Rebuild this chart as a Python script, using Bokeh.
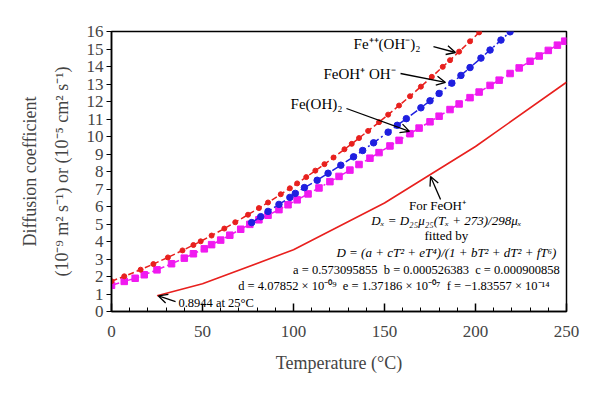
from bokeh.plotting import figure
from bokeh.models import LinearAxis, Range1d, FixedTicker, Arrow, OpenHead
from bokeh.core.properties import value
from bokeh.embed import file_html
from bokeh.resources import INLINE

# ---- data ----
t_red = [0, 7, 16, 23, 31, 39, 45, 49, 55, 62, 68, 75, 81, 86, 93, 98, 102, 107, 112, 117,
         122, 128, 132, 136, 141, 147, 152, 158, 164, 170, 176, 182, 186, 191, 197, 202]
d_red = [1.73, 2.01, 2.39, 2.71, 3.09, 3.49, 3.80, 4.01, 4.34, 4.74, 5.10, 5.53, 5.91, 6.23, 6.70,
         7.04, 7.32, 7.68, 8.05, 8.42, 8.80, 9.27, 9.58, 9.91, 10.32, 10.82, 11.25, 11.77, 12.30,
         12.85, 13.41, 13.98, 14.36, 14.85, 15.44, 15.95]

t_blue = [77, 82, 86, 92, 98, 101, 106, 113, 119, 126, 133, 138, 144, 152, 157, 162, 170, 175,
          180, 187, 192, 197, 203, 208, 214, 219]
d_blue = [5.08, 5.42, 5.72, 6.12, 6.52, 6.75, 7.08, 7.50, 7.90, 8.36, 8.84, 9.20, 9.64, 10.25,
          10.64, 11.02, 11.64, 12.04, 12.46, 13.05, 13.49, 13.94, 14.48, 14.94, 15.51, 15.98]

t_mag = [0, 7, 13, 18, 25, 33, 40, 45, 51, 55, 60, 65, 71, 76, 81, 86, 92, 97, 102, 108, 114, 120,
         125, 131, 136, 142, 147, 153, 158, 164, 169, 175, 180, 186, 191, 197, 202, 208, 213, 219,
         224, 230, 235, 240, 245, 249]
d_mag = [1.50, 1.72, 1.90, 2.10, 2.38, 2.73, 3.05, 3.30, 3.58, 3.82, 4.08, 4.36, 4.70, 4.98, 5.24,
         5.50, 5.82, 6.10, 6.38, 6.72, 7.06, 7.42, 7.72, 8.08, 8.40, 8.76, 9.08, 9.46, 9.78, 10.16,
         10.48, 10.84, 11.16, 11.54, 11.86, 12.22, 12.54, 12.92, 13.22, 13.60, 13.92, 14.30, 14.60,
         14.92, 15.22, 15.45]

t_feoh = [25, 50, 100, 150, 200, 250]
d_feoh = [0.8944, 1.58, 3.53, 6.2, 9.43, 13.1]

x_ticks = [0, 50, 100, 150, 200, 250]
y_ticks = list(range(0, 17))

RED = "#e8201e"
BLUE = "#1f1fe0"
MAG = "#f01af0"
FONT = "Liberation Serif"
SP = "\u00a0\u00a0"

p = figure(width=592, height=387, output_backend="svg", toolbar_location=None,
           x_range=Range1d(0, 250), y_range=Range1d(0, 16),
           frame_width=455, frame_height=280,
           min_border_left=111, min_border_top=31, min_border_right=26, min_border_bottom=76)
p.grid.visible = False
p.outline_line_color = "black"
p.outline_line_width = 1.5
p.background_fill_color = "white"
p.border_fill_color = "white"

# x axis
xa = p.xaxis[0]
xa.ticker = FixedTicker(ticks=x_ticks, minor_ticks=list(range(0, 251, 10)))
xa.major_tick_in = 8
xa.major_tick_out = 0
xa.minor_tick_in = 4
xa.minor_tick_out = 0
xa.axis_line_width = 1.5
xa.major_tick_line_width = 1.5
xa.major_label_text_font = FONT
xa.major_label_text_font_size = "17px"
xa.major_label_standoff = 14
xa.axis_label = "Temperature (°C)"
xa.axis_label_text_font = FONT
xa.axis_label_text_font_size = "18px"
xa.axis_label_text_font_style = "normal"
xa.axis_label_standoff = 13

# y axis
ya = p.yaxis[0]
ya.ticker = FixedTicker(ticks=y_ticks)
ya.major_tick_in = 0
ya.major_tick_out = 5
ya.minor_tick_line_color = None
ya.axis_line_width = 1.5
ya.major_tick_line_width = 1.2
ya.major_label_text_font = FONT
ya.major_label_text_font_size = "17px"
ya.major_label_standoff = 3
ya.axis_label = "(10⁻⁹ m² s⁻¹) or (10⁻⁵ cm² s⁻¹)"
ya.axis_label_text_font = FONT
ya.axis_label_text_font_size = "18px"
ya.axis_label_text_font_style = "normal"
ya.axis_label_standoff = 12

ya2 = LinearAxis(axis_label="Diffusion coefficient", axis_line_color=None,
                 major_tick_line_color=None, minor_tick_line_color=None,
                 major_label_text_font_size="0px", ticker=FixedTicker(ticks=[]))
ya2.axis_label_text_font = FONT
ya2.axis_label_text_font_size = "18px"
ya2.axis_label_text_font_style = "normal"
ya2.axis_label_standoff = 9
p.add_layout(ya2, "left")

# series
p.line(t_feoh, d_feoh, line_color=RED, line_width=1.6)

p.line(t_mag, d_mag, line_color=MAG, line_width=1.5, line_dash="8 3 2 3")
p.scatter(t_mag, d_mag, marker="square", size=6.5, fill_color=MAG, line_color=MAG)

p.line(t_blue, d_blue, line_color=BLUE, line_width=1.5, line_dash="8 3 2 3")
p.scatter(t_blue, d_blue, marker="circle", size=6.5, fill_color=BLUE, line_color=BLUE)

p.line(t_red, d_red, line_color=RED, line_width=1.5, line_dash="6 3")
p.scatter(t_red, d_red, marker="circle", size=5, fill_color=RED, line_color=RED)

# labels with arrows
def txt(x, y, s, size="14px", align="left", style="normal"):
    p.text(x=[x], y=[y], text=[s], text_font=value(FONT), text_font_size=size,
           text_align=align, text_baseline="middle", text_color="black", text_font_style=style)

def arr(x0, y0, x1, y1):
    p.add_layout(Arrow(end=OpenHead(size=9, line_width=1.3, line_color="black"),
                       x_start=x0, y_start=y0, x_end=x1, y_end=y1,
                       line_width=1.3, line_color="black"))

txt(133, 15.31, "Fe⁺⁺(OH⁻)₂", "15px")
arr(176.9, 15.14, 189, 14.8)
txt(116.5, 13.6, "FeOH⁺ OH⁻", "15px")
arr(158.8, 13.6, 183.5, 13.09)
txt(98.4, 11.83, "Fe(OH)₂", "15px")
arr(129.1, 11.6, 163.7, 10.29)

arr(180.8, 6.4, 175.3, 7.71)
txt(179.1, 6.06, "For FeOH⁺", "13px", "center")
txt(184, 5.2, "Dₓ = D₂₅μ₂₅(Tₓ + 273)/298μₓ", "13px", "center", "italic")
txt(184, 4.34, "fitted by", "13px", "center")
txt(184, 3.37, "D = (a + cT² + eT⁴)/(1 + bT² + dT² + fT⁶)", "13px", "center", "italic")
txt(173, 2.4, "a = 0.573095855" + SP + "b = 0.000526383" + SP + "c = 0.000900858", "12.5px", "center")
txt(155.2, 1.43, "d = 4.07852 × 10⁻⁰⁹" + SP + "e = 1.37186 × 10⁻⁰⁷" + SP + "f = −1.83557 × 10⁻¹⁴", "12.5px", "center")

txt(36.8, 0.51, "0.8944 at 25°C", "12.5px")
arr(35.2, 0.57, 25.8, 0.89)

open("out.html", "w").write(file_html(p, INLINE))
